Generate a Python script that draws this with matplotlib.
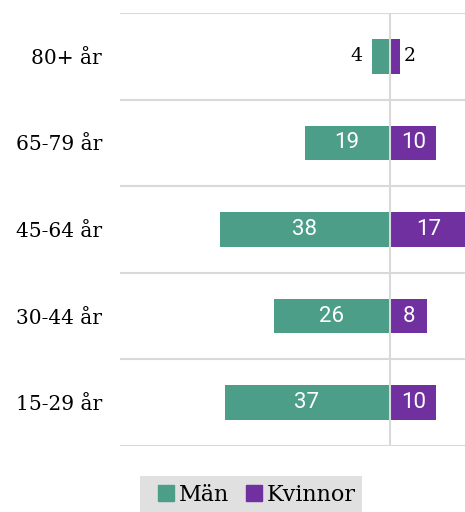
import matplotlib
matplotlib.use("Agg")
import matplotlib.pyplot as plt
from matplotlib.lines import Line2D
from matplotlib.patches import Rectangle
import numpy as np

# age groups, bottom to top
groups = ["15-29 år", "30-44 år", "45-64 år", "65-79 år", "80+ år"]
men = [37, 26, 38, 19, 4]
women = [10, 8, 17, 10, 2]

green = "#4c9e89"
purple = "#7030a0"
grid = "#d9d9d9"
serif = "DejaVu Serif"

W, H = 465, 512
fig = plt.figure(figsize=(W / 100, H / 100), dpi=100)
ax = fig.add_axes([120 / W, 1 - 446 / H, 345 / W, 433 / H])

y = np.arange(len(groups))
h = 0.4
ax.barh(y, [-m for m in men], height=h, color=green, zorder=2)
ax.barh(y, women, height=h, color=purple, zorder=2, left=0.4)

ax.set_xlim(-60.5, 17)
ax.set_ylim(-0.5, len(groups) - 0.5)

# category separators and zero line
for b in np.arange(-0.5, len(groups), 1.0):
    ax.axhline(b, color=grid, lw=1.5, zorder=1)
ax.axvline(0.2, color=grid, lw=1.5, zorder=3)

for i in range(len(groups)):
    m, w = men[i], women[i]
    if m >= 8:
        ax.text(-m / 2, i, str(m), ha="center", va="center", color="white",
                fontsize=16, family="Roboto", zorder=4)
    else:
        ax.text(-m - 2.0, i, str(m), ha="right", va="center", color="black",
                fontsize=13.5, family=serif, zorder=4)
    if w >= 5:
        ax.text(0.4 + w / 2, i, str(w), ha="center", va="center", color="white",
                fontsize=16, family="Roboto", zorder=4)
    else:
        ax.text(0.4 + w + 0.8, i, str(w), ha="left", va="center", color="black",
                fontsize=13.5, family=serif, zorder=4)

ax.set_yticks(y)
ax.set_yticklabels(groups, family=serif, fontsize=14.5)
ax.tick_params(axis="y", length=0, pad=13)
ax.set_xticks([])
for s in ax.spines.values():
    s.set_visible(False)

# grey legend band at the bottom
fig.patches.append(Rectangle((140 / W, 0), 222 / W, 36 / H, transform=fig.transFigure,
                             facecolor="#e0e0e0", edgecolor="none", zorder=0))
handles = [Line2D([], [], marker="s", ls="", color=green, markersize=12),
           Line2D([], [], marker="s", ls="", color=purple, markersize=12)]
leg = fig.legend(handles, ["Män", "Kvinnor"], loc="center",
                 bbox_to_anchor=(257 / W, 1 - 495 / H), ncol=2, frameon=False,
                 handlelength=0.7, handletextpad=0.25,
                 columnspacing=0.75, borderpad=0, borderaxespad=0,
                 prop={"family": serif, "size": 16})

fig.savefig("out.png", dpi=100)
